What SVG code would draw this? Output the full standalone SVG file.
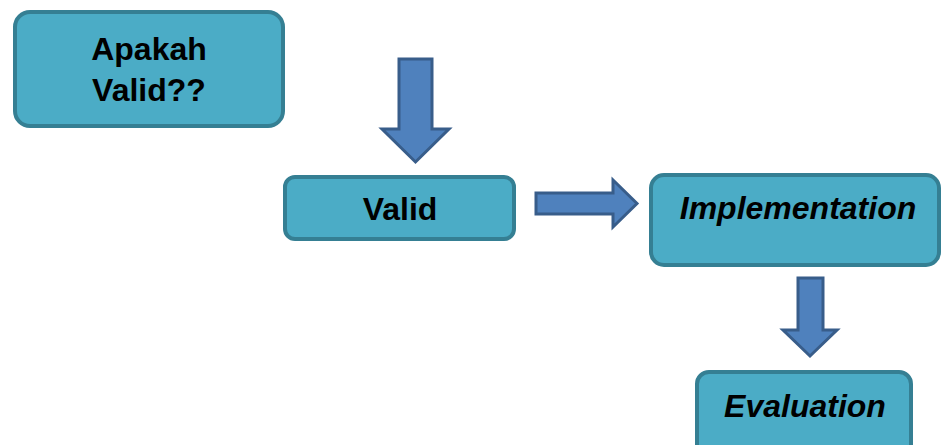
<svg xmlns="http://www.w3.org/2000/svg" width="941" height="445" viewBox="0 0 941 445">
  <style>
    .box { fill: #4BACC6; stroke: #357F93; stroke-width: 4; }
    .arrow { fill: #4F81BD; stroke: #385D8A; stroke-width: 3; stroke-linejoin: miter; }
    .lbl { font-family: "Liberation Sans", Arial, sans-serif; font-weight: bold; font-size: 32px; fill: #000; text-anchor: middle; }
    .it { font-style: italic; }
  </style>
  <rect width="941" height="445" fill="#fff"/>

  <g id="connectors">
    <polygon class="arrow" points="399,59 432,59 432,129 449,129 415.5,162 382,129 399,129"/>
    <polygon class="arrow" points="536,193 613,193 613,180 637,203.5 613,227 613,214 536,214"/>
    <polygon class="arrow" points="798,278 823,278 823,330 837,330 810,356 783,330 798,330"/>
  </g>

  <g id="node-apakah">
    <rect class="box" x="15" y="12" width="268" height="114" rx="15"/>
    <text class="lbl" x="149" y="60">Apakah</text>
    <text class="lbl" x="149" y="101">Valid??</text>
  </g>

  <g id="node-valid">
    <rect class="box" x="285" y="177" width="229" height="62" rx="10"/>
    <text class="lbl" x="400" y="220">Valid</text>
  </g>

  <g id="node-implementation">
    <rect class="box" x="651" y="175" width="288" height="90" rx="13"/>
    <text class="lbl it" x="798" y="219">Implementation</text>
  </g>

  <g id="node-evaluation">
    <rect class="box" x="697" y="372" width="214" height="84" rx="12"/>
    <text class="lbl it" x="805" y="417">Evaluation</text>
  </g>
</svg>
